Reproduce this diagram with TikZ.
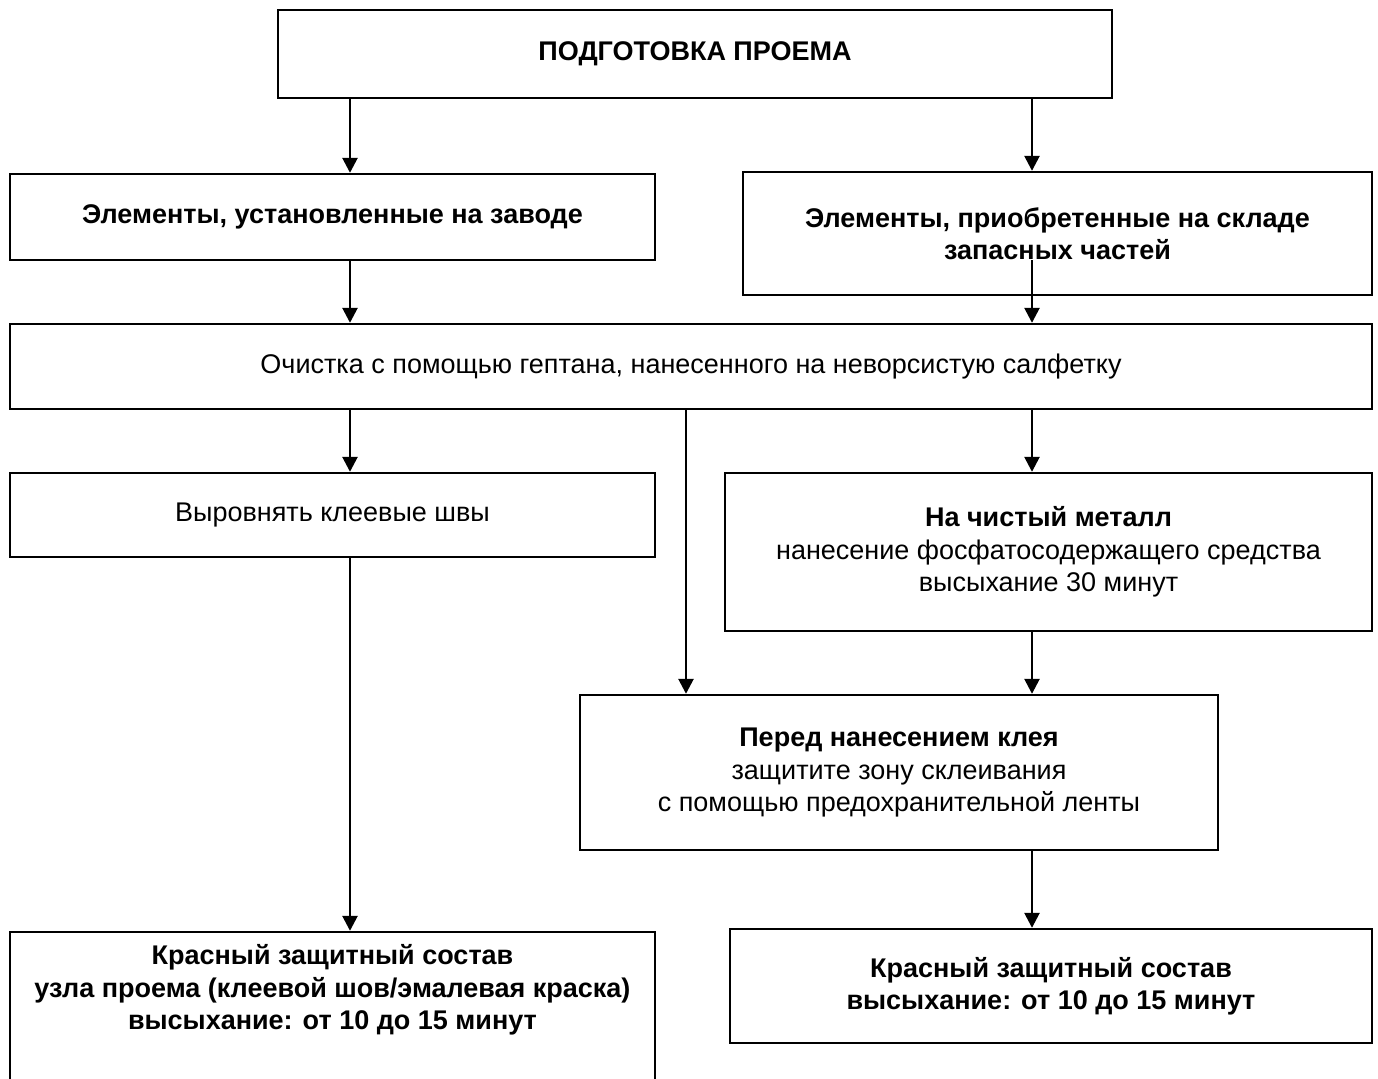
\documentclass[tikz,border=0pt]{standalone}
\usepackage{fontspec}
\setmainfont{Liberation Sans}
\usetikzlibrary{arrows.meta,calc}
\begin{document}
\begin{tikzpicture}[x=0.5pt, y=-0.5pt,
    box/.style={draw, line width=1.2pt, align=center, inner sep=0pt,
      font=\fontsize{13.5}{16.25}\selectfont},
    arr/.style={line width=1.3pt, -{Triangle[length=7.5pt, width=7.5pt]}}]
  \useasboundingbox (0,0) rectangle (1378,1078);
  \node[box, minimum width=417pt, minimum height=44pt] (prep) at (695,54)
    {\bfseries ПОДГОТОВКА ПРОЕМА};
  \node[box, minimum width=322.5pt, minimum height=43pt] (factory) at (332.5,217)
    {\bfseries Элементы, установленные на заводе};
  \node[box, minimum width=314.5pt, minimum height=61.5pt] (spare) at (1057.5,233.5)
    {\bfseries Элементы, приобретенные на складе\\ \bfseries запасных частей};
  \node[box, minimum width=681pt, minimum height=42.5pt] (clean) at (691,366.5)
    {Очистка с помощью гептана, нанесенного на неворсистую салфетку};
  \node[box, minimum width=322.5pt, minimum height=42pt] (seams) at (332.5,515)
    {Выровнять клеевые швы};
  \node[box, minimum width=323.5pt, minimum height=79pt] (metal) at (1048.5,552)
    {\bfseries На чистый металл\\ нанесение фосфатосодержащего средства\\ высыхание 30 минут};
  \node[box, minimum width=319pt, minimum height=77.5pt] (tape) at (899,772.5)
    {\bfseries Перед нанесением клея\\ защитите зону склеивания\\ с помощью предохранительной ленты};
  \node[box, minimum width=322.5pt, minimum height=76.5pt] (redL) at (332.5,1008.5)
    {\bfseries Красный защитный состав\\ \bfseries узла проема (клеевой шов/эмалевая краска)\\
     \bfseries высыхание: от 10 до 15 минут\\ \strut};
  \node[box, minimum width=321pt, minimum height=57pt] (redR) at (1051,986)
    {\bfseries Красный защитный состав\\ \bfseries высыхание: от 10 до 15 минут};
  % arrow columns
  \coordinate (colL) at (350,0);
  \coordinate (colM) at (686,0);
  \coordinate (colR) at (1032,0);
  \foreach \a/\b/\c in {prep/factory/colL, prep/spare/colR, factory/clean/colL,
      clean/seams/colL, clean/tape/colM, clean/metal/colR,
      seams/redL/colL, metal/tape/colR, tape/redR/colR}{
    \draw[arr] (\a.south -| \c) -- (\b.north -| \c);
  }
  \draw[arr] ($(spare.south -| colR)+(0,-36)$) -- (clean.north -| colR);
\end{tikzpicture}
\end{document}
